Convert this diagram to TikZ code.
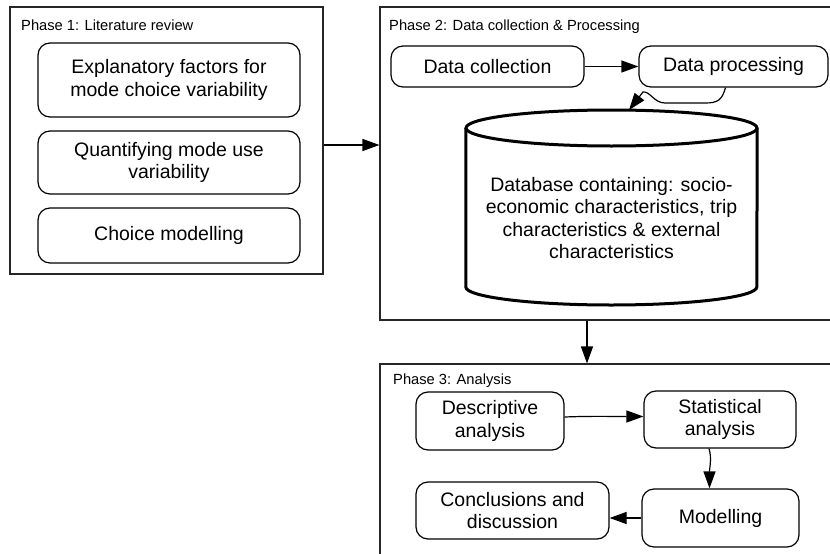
\documentclass[tikz,border=0pt]{standalone}
\usepackage{fontspec}
\setmainfont{Liberation Sans}
\usetikzlibrary{arrows.meta,calc}
\begin{document}
\begin{tikzpicture}[x=1pt,y=-1pt,
  phase/.style={draw=black!85, line width=1.1pt, inner sep=0pt},
  phaselabel/.style={font=\fontsize{14.7}{17}\selectfont, anchor=west, inner sep=0pt},
  stepbox/.style={draw, rounded corners=12pt, line width=1.2pt, align=center,
    font=\fontsize{19.5}{22.5}\selectfont, inner sep=2pt},
  arr/.style={line width=1.2pt, -{Triangle[length=17pt,width=12pt]}},
  cyl/.style={line width=3pt}]
\fill[white] (0,0) rectangle (830,554);
\useasboundingbox (0,0) rectangle (830,554);
\clip (0,0) rectangle (830,554);

% phase frames
\node[phase, minimum width=313pt, minimum height=267pt] (p1) at (166.5,140.5) {};
\node[phase, minimum width=470pt, minimum height=313pt] (p2) at (615,163.5) {};
\node[phase, minimum width=470pt, minimum height=230pt] (p3) at (615,479) {};

\node[phaselabel] (l1) at (21,25) {Phase 1: Literature review};
\node[phaselabel] (l2) at (389,27) {Phase 2: Data collection \& Processing};
\node[phaselabel] (l3) at (393,381) {Phase 3: Analysis};

% phase 1
\node[stepbox, minimum width=262pt, minimum height=74pt] (e1) at (169,80)
  {Explanatory factors for\\mode choice variability};
\node[stepbox, minimum width=262pt, minimum height=63pt] (e2) at (169,162.5)
  {Quantifying mode use\\variability};
\node[stepbox, minimum width=262pt, minimum height=55pt] (e3) at (169,235.5)
  {Choice modelling};

% phase 2
\node[stepbox, minimum width=193pt, minimum height=41pt] (dc) at (487.5,66.5) {Data collection};
\node[stepbox, minimum width=189pt, minimum height=41pt] (dp) at (733.5,66.5) {Data processing};

\node[align=center, minimum width=291pt, inner sep=0pt,
  font=\fontsize{19.5}{22.5}\selectfont] (db) at (611.5,218)
  {Database containing: socio-\\economic characteristics, trip\\characteristics \& external\\characteristics};
\draw[cyl] ($(db.center)+(0,-90)$) ellipse [x radius=145.5pt, y radius=18pt];
\draw[cyl] ($(db.west)+(0,-90)$) -- ($(db.west)+(0,69)$)
  arc[start angle=180, end angle=360, x radius=145.5pt, y radius=18pt]
  -- ($(db.east)+(0,-90)$);
\coordinate (dbtop) at ($(db.center)+(17.5,-108)$);

% phase 3
\node[stepbox, minimum width=148pt, minimum height=58pt] (da) at (490,421) {Descriptive\\analysis};
\node[stepbox, minimum width=152pt, minimum height=57pt] (sa) at (720,419.5) {Statistical\\analysis};
\node[stepbox, minimum width=193pt, minimum height=57pt] (cd) at (512.5,510.5) {Conclusions and\\discussion};
\node[stepbox, minimum width=157pt, minimum height=58pt] (mo) at (720.5,518) {Modelling};

% connectors
\coordinate (a1) at ([yshift=-4.5pt]p1.east);
\draw[arr] (a1) -- (a1 -| p2.west);
\draw[arr] ([xshift=-28pt]p2.south) -- ([xshift=-28pt]p3.north);
\draw[arr] (dc) -- (dp);
\draw[arr] ([xshift=-8pt]dp.south) .. controls (722,100) and (718,103) .. (705,103)
  -- (665,103) .. controls (654,103) and (650,91) .. (643,92) -- (dbtop);
\draw[arr] ([yshift=4pt]da.east) .. controls (590,416) and (610,416.5) .. ([yshift=3pt]sa.west);
\draw[arr] ([xshift=-11pt]sa.south) .. controls (712,458) and (709.5,468) .. ([xshift=-11pt]mo.north);
\draw[arr] (mo.west) -- (mo.west -| cd.east);
\end{tikzpicture}
\end{document}
